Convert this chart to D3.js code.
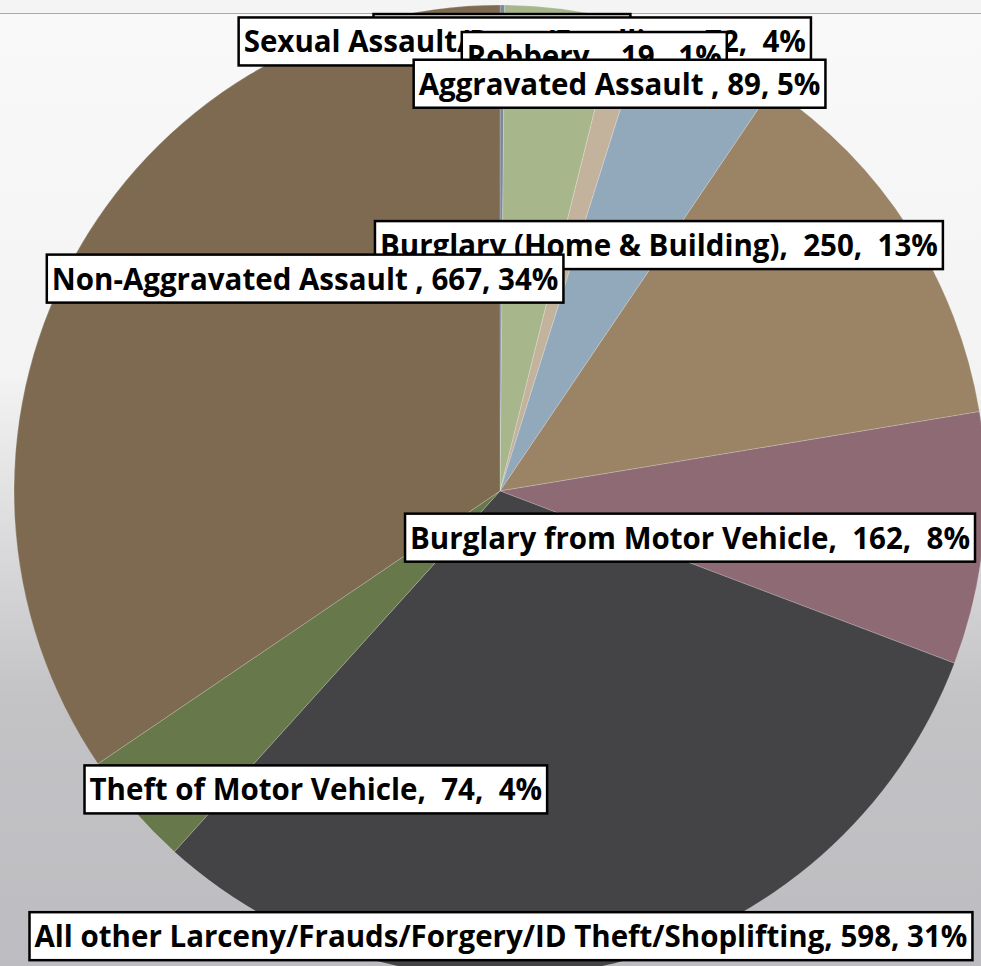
<!DOCTYPE html>
<html>
<head>
<meta charset="utf-8">
<script src="https://cdn.jsdelivr.net/npm/d3@7"></script>
<style>
  html, body { margin: 0; padding: 0; background: #f4f4f4; }
  svg { display: block; }
  .lbl text { font-family: "Open Sans", Lato, sans-serif; font-weight: 700; font-size: 29.5px; fill: #000; white-space: pre; }
</style>
</head>
<body>
<svg id="chart"></svg>
<script>
// crime categories, in the order the slices run clockwise from 12 o'clock
const categories = [
    'Homicide',
    'Sexual Assault/Rape/Fondling',
    'Robbery ',
    'Aggravated Assault ',
    'Burglary (Home & Building)',
    'Burglary from Motor Vehicle',
    'All other Larceny/Frauds/Forgery/ID Theft/Shoplifting',
    'Theft of Motor Vehicle',
    'Non-Aggravated Assault '
]
const counts = [3, 72, 19, 89, 250, 162, 598, 74, 667]
// separator used in each data label (some labels have a double space)
const separators = [',  ', ',  ', ',  ', ', ', ',  ', ',  ', ', ', ',  ', ', ']
const colors = ['#7d8898', '#a7b78b', '#c3b29c', '#92a9bc', '#9b8366', '#8d6a74', '#444446', '#67784a', '#7d6a51']

// where each label box sits, as a fraction of the radius from the pie centre
const labelAnchor = [
    [0.004, -0.932], [0.051, -0.925], [0.194, -0.895], [0.246, -0.838], [0.327, -0.506],
    [0.391, 0.096], [0.002, 0.916], [-0.379, 0.614], [-0.401, -0.437]
]

const width = 981, height = 966
const cx = 500, cy = 491, radius = 486

const svg = d3.select('#chart').attr('width', width).attr('height', height)

const defs = svg.append('defs')
const grad = defs.append('linearGradient').attr('id', 'bg').attr('x1', 0).attr('y1', 0).attr('x2', 0).attr('y2', 1)
grad.append('stop').attr('offset', '0%').attr('stop-color', '#f9f9f9')
grad.append('stop').attr('offset', '38%').attr('stop-color', '#f3f3f3')
grad.append('stop').attr('offset', '72%').attr('stop-color', '#c3c3c6')
grad.append('stop').attr('offset', '100%').attr('stop-color', '#bdbdc1')

svg.append('rect').attr('width', width).attr('height', 14).attr('fill', '#f4f4f4')
svg.append('rect').attr('y', 14).attr('width', width).attr('height', height - 14).attr('fill', 'url(#bg)')
svg.append('line').attr('x1', 0).attr('x2', width).attr('y1', 13.5).attr('y2', 13.5)
    .attr('stroke', '#a9a9a9').attr('stroke-width', 1)

const total = d3.sum(counts)
const pie = d3.pie().sort(null).value(d => d)
const arc = d3.arc().innerRadius(0).outerRadius(radius)
const arcs = pie(counts)

const g = svg.append('g').attr('transform', `translate(${ cx },${ cy })`)

g.selectAll('path.slice')
    .data(arcs)
    .join('path')
    .attr('class', 'slice')
    .attr('fill', (d, i) => colors[i])
    .attr('stroke', 'rgba(255,255,255,0.35)')
    .attr('stroke-width', 0.6)
    .attr('d', arc)

const labels = g.selectAll('g.lbl')
    .data(arcs)
    .join('g')
    .attr('class', 'lbl')
    .attr('transform', (d, i) => `translate(${ labelAnchor[i][0] * radius },${ labelAnchor[i][1] * radius })`)

labels.each(function (d, i) {
    const lg = d3.select(this)
    const pct = Math.round(d.data / total * 100)
    const txt = `${ categories[i] }${ separators[i] }${ d.data }${ separators[i] }${ pct }%`
    const rect = lg.append('rect')
    const t = lg.append('text').attr('text-anchor', 'middle').attr('y', 11).text(txt)
    const w = t.node().getComputedTextLength() + 10
    rect.attr('x', -w / 2).attr('y', -24).attr('width', w).attr('height', 48)
        .attr('fill', '#fff').attr('stroke', '#000').attr('stroke-width', 2.5)
})
</script>
</body>
</html>
